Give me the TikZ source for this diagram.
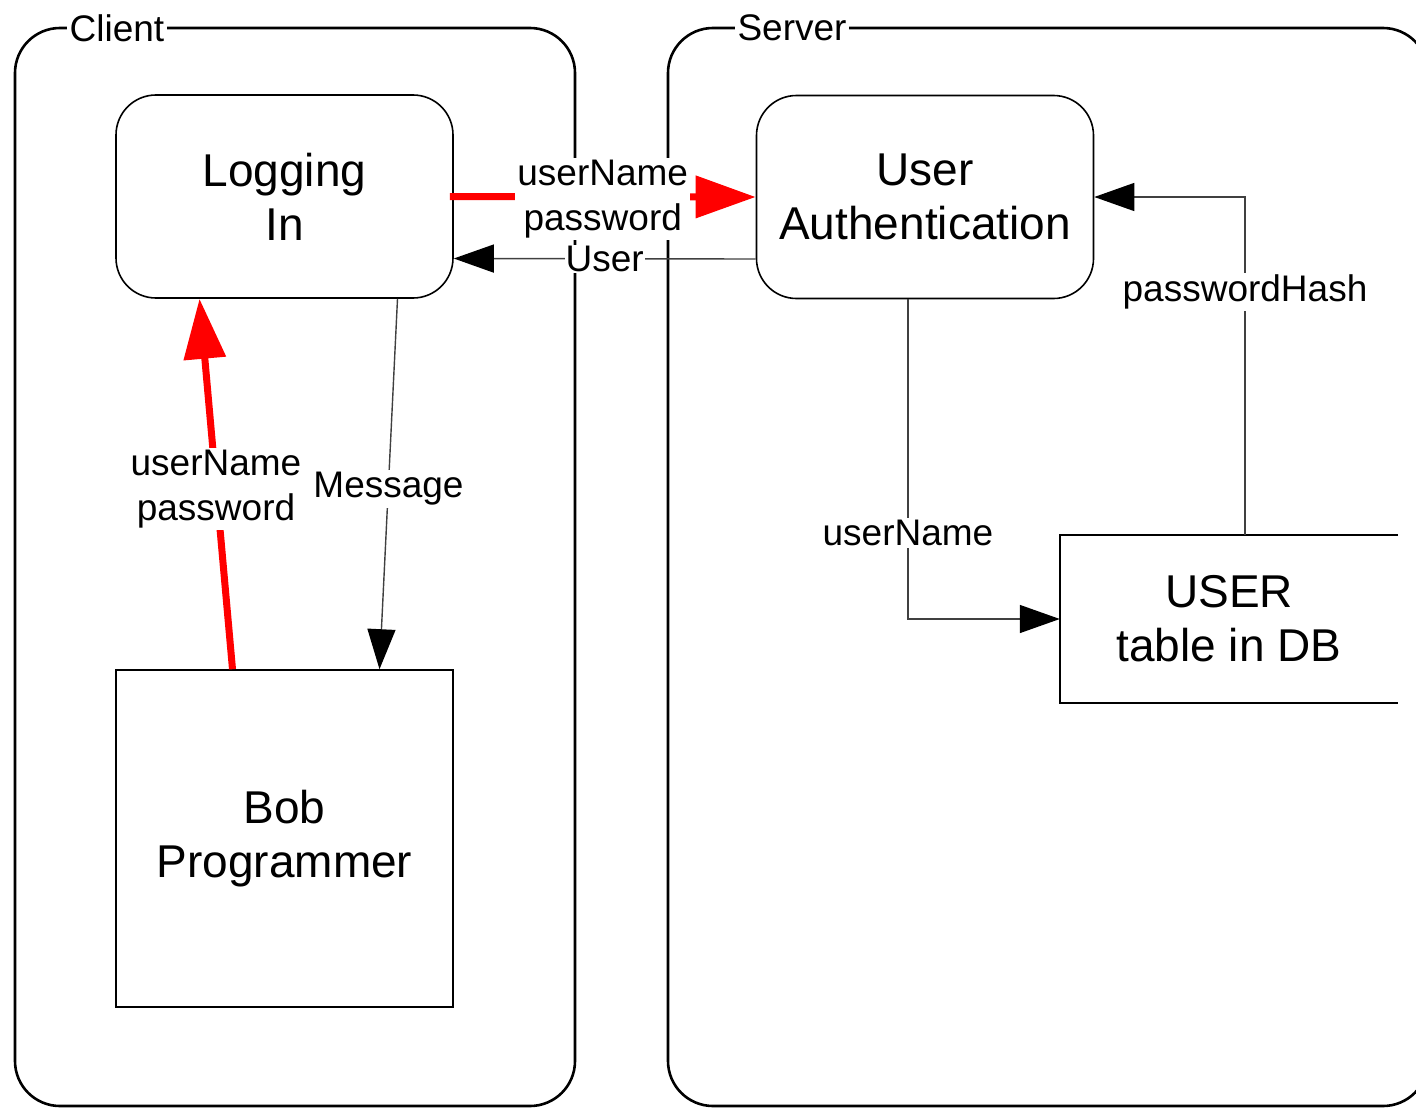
\documentclass[tikz,border=0pt]{standalone}
\usepackage{fontspec}
\setmainfont{Liberation Sans}
\usetikzlibrary{arrows.meta}
\definecolor{conn}{HTML}{404040}
\tikzset{
  container/.style={draw=black, line width=2.6pt, rounded corners=45pt},
  bigtext/.style={font=\fontsize{46}{54}\selectfont, align=center},
  proc/.style={draw=black, line width=1.6pt, rounded corners=40pt, minimum width=337pt, minimum height=203pt, bigtext, inner sep=0pt},
  ent/.style={draw=black, line width=1.6pt, minimum width=337pt, minimum height=337pt, bigtext, inner sep=0pt},
  lbl/.style={font=\fontsize{37}{45}\selectfont, align=center, fill=white, inner sep=2pt},
  title/.style={font=\fontsize{37}{45}\selectfont, fill=white, inner sep=3pt},
  flow/.style={draw=conn, line width=1.4pt, -{Triangle[length=40pt,width=28pt,color=black,fill=black]}},
  redflow/.style={draw=red, line width=7pt, -{Triangle[length=60pt,width=41pt]}},
}
\begin{document}
\begin{tikzpicture}[x=1pt,y=-1pt]
\path[use as bounding box] (0,0) rectangle (1416,1108);
\clip (0,0) rectangle (1416,1108);
% containers
\draw[container] (15,28) rectangle (575,1106);
\draw[container] (668,28) rectangle (1428,1106);
\node[title] (clientlbl) at (117,28) {Client};
\node[title] (serverlbl) at (792,28) {Server};
% nodes
\node[proc] (log) at (284.5,196.5) {Logging\\In};
\node[proc] (auth) at (925,197) {User\\Authentication};
\node[ent] (bob) at (284.5,838.5) {Bob\\Programmer};
\node[bigtext, minimum width=338pt, minimum height=168pt, inner sep=0pt] (usr) at (1229,619) {USER\\table in DB};
\draw[line width=1.6pt] (usr.north east) -- (usr.north west) -- (usr.south west) -- (usr.south east);
% connectors
\draw[redflow] ([xshift=-4pt]log.east) -- (auth.west)
  node[lbl, midway, yshift=-2pt] (l1) {userName\\password};
\draw[flow] ([yshift=-62pt]auth.west) -- ([yshift=-62pt]log.east)
  node[lbl, midway, inner sep=1pt] (l2) {User};
\draw[redflow] ([xshift=-52pt]bob.north) -- ([xshift=-85pt]log.south)
  node[lbl, midway, yshift=-5pt] (l3) {userName\\password};
\draw[flow] ([xshift=113pt]log.south) -- ([xshift=95pt]bob.north)
  node[lbl, midway, yshift=-5pt] (l4) {Message};
\draw[flow] ([xshift=16pt]usr.north) |- (auth.east)
  node[lbl, pos=0.364, yshift=-3pt] (l5) {passwordHash};
\draw[flow] ([xshift=-17pt]auth.south) |- (usr.west)
  node[lbl, pos=0.366] (l6) {userName};
\end{tikzpicture}
\end{document}
